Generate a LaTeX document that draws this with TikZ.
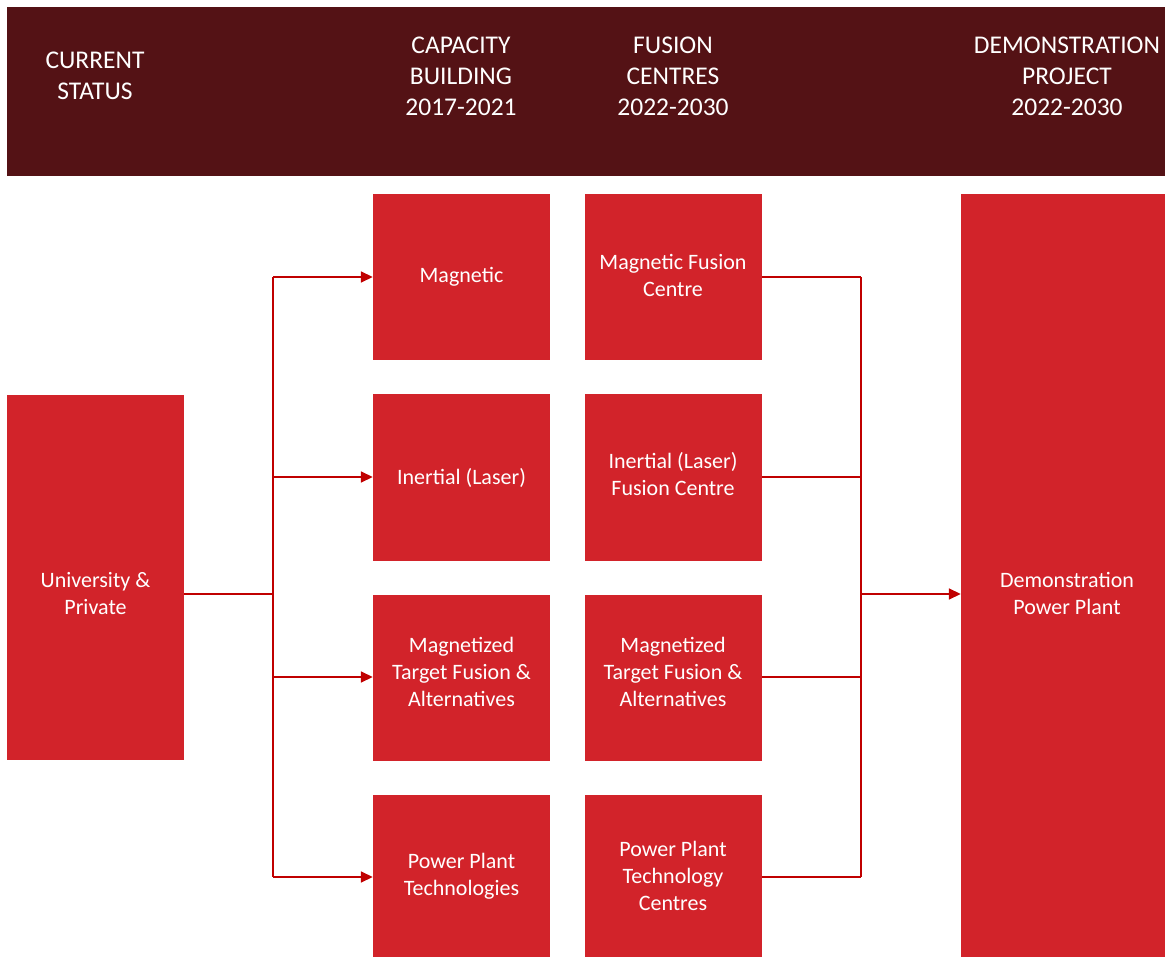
\documentclass[tikz,border=0pt]{standalone}
\usepackage{fontspec}
\setmainfont{Carlito}
\usetikzlibrary{arrows.meta}
\definecolor{bandred}{HTML}{541215}
\definecolor{boxred}{HTML}{D2232A}
\definecolor{linered}{HTML}{C00000}

\begin{document}
\begin{tikzpicture}[x=1pt, y=-1pt,
    box/.style = {fill=boxred, text=white, align=center, inner sep=0pt, minimum width=177pt, font=\fontsize{22}{27}\selectfont},
    boxtext/.style = {text=white, align=center, font=\fontsize{22}{27}\selectfont},
    head/.style = {text=white, align=center, font=\fontsize{25.5}{31}\selectfont},
    link/.style = {draw=linered, line width=1.6pt},
    tip/.style = {-{Triangle[length=12pt, width=11pt]}}]
        \useasboundingbox (0,0) rectangle (1165,957);
        \fill [bandred] (7,7) rectangle (1165,176);

        \node [head] (h0) at (95, 76) {CURRENT\\STATUS};
        \node [head] (h1) at (461, 76) {CAPACITY\\BUILDING\\2017-2021};
        \node [head] (h2) at (673, 76) {FUSION\\CENTRES\\2022-2030};
        \node [head] (h3) at (1067, 76) {DEMONSTRATION\\PROJECT\\2022-2030};

        \node [box, minimum height=365pt, label={[boxtext, yshift=-16pt]center:University \&\\Private}] (cur) at (95.5, 577.5) {};
        \node [box, minimum width=204pt, minimum height=763pt, label={[boxtext, xshift=4pt, yshift=-18pt]center:Demonstration\\Power Plant}] (demo) at (1063, 575.5) {};

        \node [box, minimum height=166pt] (cb1) at (461.5, 277) {Magnetic};
        \node [box, minimum height=166pt] (cb2) at (461.5, 477.5) {Inertial (Laser)};
        \node [box, minimum height=166pt, label={[boxtext, yshift=6pt]center:Magnetized\\Target Fusion \&\\Alternatives}] (cb3) at (461.5, 677.5) {};
        \node [box, minimum height=162pt] (cb4) at (461.5, 876) {Power Plant\\Technologies};

        \node [box, minimum height=166pt, label={[boxtext, yshift=2pt]center:Magnetic Fusion\\Centre}] (fc1) at (673, 277) {};
        \node [box, minimum height=166pt, label={[boxtext, yshift=3pt]center:Inertial (Laser)\\Fusion Centre}] (fc2) at (673, 477.5) {};
        \node [box, minimum height=166pt, label={[boxtext, yshift=6pt]center:Magnetized\\Target Fusion \&\\Alternatives}] (fc3) at (673, 677.5) {};
        \node [box, minimum height=162pt] (fc4) at (673, 876) {Power Plant\\Technology\\Centres};

        \coordinate (split) at (273, 594);
        \coordinate (join) at (861, 594);

        \draw [link] (cur.east |- split) -- (split);
        \draw [link] (split |- 0,277) -- (split |- 0,877);
        \draw [link] (join |- 0,277) -- (join |- 0,877);
        \draw [link, tip] (join) -- (demo.west |- join);
        \foreach \n/\y in {1/277, 2/477, 3/677, 4/877}
                 {
                   \draw [link, tip] (split |- 0,\y) -- (cb\n.west |- 0,\y);
                   \draw [link] (fc\n.east |- 0,\y) -- (join |- 0,\y);
                 }
\end{tikzpicture}
\end{document}
